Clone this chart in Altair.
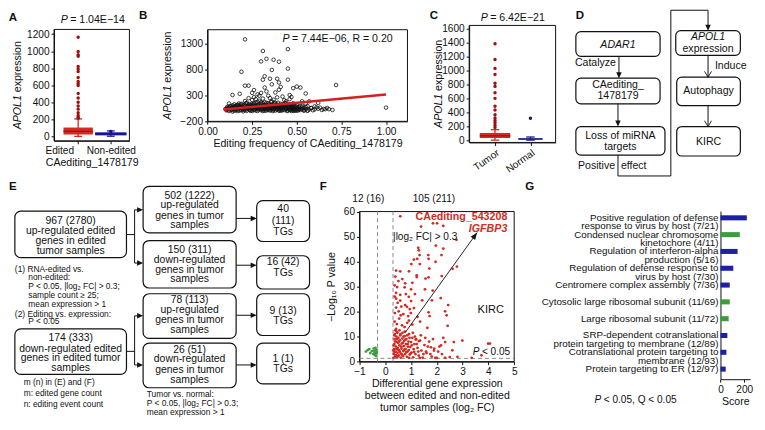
import math
import altair as alt
import pandas as pd

# ---------------------------------------------------------------- canvas
W, H = 752, 410
SX, SY = W / 765.0, H / 430.0
FS = 0.965
FONT = "Liberation Sans"
INK = "#111111"
RED = "#d42a22"
RED_DARK = "#9e1010"
NAVY = "#1d1d9b"
NAVY_DARK = "#15157a"
G_BLUE = "#1f1fa2"
G_GREEN = "#3d9d3d"
GREY = "#8a8a8a"


def X(r):
    return r * SX


def Y(r):
    return r * SY


# ---------------------------------------------------------------- data
# Panel A : APOL1 expression by editing status
A_groups = ["Edited", "Non-edited"]
A_q1 = [22, 12]
A_median = [60, 30]
A_q3 = [104, 48]
A_whisker_low = [0, 2]
A_whisker_high = [205, 64]
A_outliers_edited = [1163, 996, 958, 940, 821, 790, 762, 691, 646, 620, 598, 505,
                     450, 401, 357, 320, 279, 245, 225, 212]
A_outliers_nonedited = [57]
A_yticks = [0, 200, 400, 600, 800, 1000, 1200]

# Panel B : editing frequency vs APOL1 expression
B_points_sparse = [
    (0.21, 1388), (0.31, 1163), (0.45, 1199), (0.33, 1011), (0.37, 993), (0.30, 961),
    (0.40, 955), (0.19, 760), (0.36, 796), (0.45, 821), (0.32, 674), (0.31, 607),
    (0.35, 625), (0.39, 625), (0.45, 607), (0.40, 552), (0.36, 516), (0.21, 491),
    (0.23, 491), (0.32, 455), (0.41, 467), (0.72, 504), (0.50, 473), (0.52, 455),
    (0.48, 443), (0.26, 406), (0.40, 412), (0.18, 334), (0.14, 310), (0.25, 352),
    (0.28, 322), (0.30, 352), (0.46, 310), (0.47, 273), (0.55, 340), (0.62, 157),
    (0.57, 188), (0.53, 188), (0.56, 97), (0.60, 91), (0.63, 66), (0.66, 36),
    (0.68, 36), (1.00, 66), (0.49, 6), (0.51, 42), (0.475, 79), (0.56, 6), (0.44, 188),
    (0.46, 230), (0.26, 267), (0.29, 297), (0.34, 297), (0.23, 249), (0.21, 194),
    (0.175, 145), (0.12, 145), (0.33, 380), (0.38, 360), (0.27, 230), (0.35, 250),
    (0.42, 280), (0.31, 240), (0.37, 220), (0.43, 210), (0.25, 215), (0.39, 265),
    (0.44, 150), (0.50, 120), (0.53, 100), (0.58, 60), (0.48, 150), (0.55, 140),
]
B_points_dense = [
    (0.10, 40), (0.11, 55), (0.11, 25), (0.12, 70), (0.12, 35), (0.13, 50), (0.13, 90),
    (0.14, 20), (0.14, 60), (0.14, 110), (0.15, 40), (0.15, 75), (0.15, 130), (0.16, 15),
    (0.16, 55), (0.16, 95), (0.17, 30), (0.17, 70), (0.17, 120), (0.18, 45), (0.18, 85),
    (0.18, 10), (0.19, 60), (0.19, 105), (0.19, 140), (0.20, 25), (0.20, 70), (0.20, 50),
    (0.21, 90), (0.21, 15), (0.21, 120), (0.22, 40), (0.22, 65), (0.22, 160), (0.23, 30),
    (0.23, 80), (0.23, 110), (0.24, 5), (0.24, 55), (0.24, 95), (0.25, 35), (0.25, 130),
    (0.25, 70), (0.26, 20), (0.26, 100), (0.26, 150), (0.27, 45), (0.27, 80), (0.27, 10),
    (0.28, 60), (0.28, 120), (0.28, 175), (0.29, 30), (0.29, 90), (0.29, 200), (0.30, 50),
    (0.30, 140), (0.30, 15), (0.31, 75), (0.31, 110), (0.31, 35), (0.32, 5), (0.32, 60),
    (0.32, 170), (0.33, 95), (0.33, 40), (0.33, 125), (0.34, 20), (0.34, 70), (0.34, 150),
    (0.35, 55), (0.35, 105), (0.35, 10), (0.36, 85), (0.36, 35), (0.36, 190), (0.37, 60),
    (0.37, 130), (0.37, 15), (0.38, 45), (0.38, 100), (0.38, 160), (0.39, 25), (0.39, 75),
    (0.39, 120), (0.40, 50), (0.40, 5), (0.40, 90), (0.41, 65), (0.41, 140), (0.41, 30),
    (0.42, 80), (0.42, 15), (0.43, 55), (0.43, 110), (0.44, 35), (0.44, 70), (0.45, 10),
    (0.45, 95), (0.46, 50), (0.46, 130), (0.47, 25), (0.47, 75), (0.48, 45), (0.48, 5),
    (0.49, 60), (0.50, 30), (0.50, 85), (0.51, 15), (0.52, 50), (0.53, 70), (0.54, 25),
    (0.55, 40), (0.56, 10), (0.58, 55), (0.60, 30), (0.62, 45), (0.64, 20),
    (0.105, 15), (0.11, 80), (0.115, 45), (0.12, 0), (0.125, 95), (0.13, 20), (0.135, 65),
    (0.14, -10), (0.145, 85), (0.15, 5), (0.155, 100), (0.16, 35), (0.165, 115), (0.17, 0),
    (0.175, 90), (0.18, 65), (0.185, 130), (0.19, 20), (0.195, 80), (0.20, 110), (0.20, -5),
    (0.205, 40), (0.21, 60), (0.215, 150), (0.22, 5), (0.225, 95), (0.23, 55), (0.235, 135),
    (0.24, 20), (0.24, 120), (0.245, 75), (0.25, 0), (0.25, 100), (0.255, 50), (0.26, 70),
    (0.26, 125), (0.265, 30), (0.27, 160), (0.27, 100), (0.275, 60), (0.28, 0), (0.28, 90),
    (0.285, 35), (0.29, 130), (0.29, 60), (0.295, 100), (0.30, 80), (0.30, 170), (0.305, 30),
    (0.31, 150), (0.31, 0), (0.315, 90), (0.32, 40), (0.32, 120), (0.325, 75), (0.33, 10),
    (0.33, 160), (0.335, 55), (0.34, 100), (0.34, 45), (0.345, 130), (0.35, 80), (0.35, 30),
    (0.355, 175), (0.36, 60), (0.36, 120), (0.365, 0), (0.37, 100), (0.37, 40), (0.375, 150),
    (0.38, 70), (0.38, 10), (0.385, 125), (0.39, 50), (0.39, 100), (0.395, 160), (0.40, 30),
    (0.40, 120), (0.405, 75), (0.41, 100), (0.41, 5), (0.415, 50), (0.42, 130), (0.42, 40),
    (0.425, 90), (0.43, 20), (0.43, 80), (0.435, 150), (0.44, 50), (0.44, 110), (0.445, 0),
    (0.45, 70), (0.45, 40), (0.455, 120), (0.46, 20), (0.46, 90), (0.465, 60), (0.47, 110),
    (0.47, 0), (0.475, 40), (0.48, 80), (0.48, 120), (0.485, 20), (0.49, 100), (0.49, 35),
    (0.50, 60), (0.50, 5), (0.51, 80), (0.51, 40), (0.52, 20), (0.52, 95), (0.53, 35),
    (0.54, 60), (0.54, 5), (0.55, 80), (0.57, 30), (0.59, 15), (0.61, 70), (0.65, 40),
    (0.67, 60), (0.70, 20),
]
B_fit_x = [0.09, 1.0]
B_fit_y = [29, 321]
B_xticks = [0.0, 0.25, 0.5, 0.75, 1.0]
B_yticks = [-200, 300, 800, 1300]

# Panel C : tumor vs normal
C_groups = ["Tumor", "Normal"]
C_q1 = [31, 8]
C_median = [62, 16]
C_q3 = [103, 26]
C_whisker_low = [0, 0]
C_whisker_high = [150, 45]
C_outliers_tumor = [1383, 1156, 1029, 943, 816, 771, 680, 599, 485, 431, 363, 317,
                    281, 249, 213, 181]
C_outliers_normal = [313]
C_yticks = [0, 200, 400, 600, 800, 1000, 1200, 1400, 1600]

# Panel F : differential expression of edited genes
F_red = [
    (0.58, 58.1), (1.85, 55.3), (2.01, 55.3), (2.25, 54.3), (1.39, 54.0), (2.76, 48.7),
    (1.96, 46.4), (1.28, 45.5), (1.30, 44.5), (2.25, 45.2), (1.67, 42.6), (1.33, 42.6),
    (2.18, 42.6), (1.11, 40.8), (1.24, 41.1), (1.68, 41.1), (1.95, 39.9), (1.01, 39.0),
    (1.34, 39.0), (2.78, 38.0), (2.61, 37.1), (1.71, 37.2), (0.42, 36.4), (0.58, 36.1),
    (0.92, 36.1), (1.22, 34.5), (1.22, 33.8), (1.68, 33.7), (1.56, 33.2), (2.19, 34.2),
    (0.51, 32.2), (0.77, 31.3), (0.46, 29.8), (0.75, 29.7), (1.00, 28.9), (1.54, 28.9),
    (1.84, 28.4), (0.42, 27.5), (0.58, 26.7), (0.37, 26.0), (0.91, 25.9), (0.42, 25.2),
    (0.58, 24.4), (1.43, 24.5), (1.81, 24.5), (2.15, 25.4), (0.48, 23.5), (1.00, 24.2),
    (2.44, 22.6), (0.77, 22.6), (0.42, 21.6), (0.84, 21.9), (1.11, 21.4), (2.32, 20.1),
    (0.52, 20.1), (0.37, 19.4), (0.99, 19.4), (1.68, 19.7), (0.89, 18.2), (1.25, 17.9),
    (1.72, 18.2), (2.38, 18.5), (0.54, 17.2), (0.92, 16.4), (2.42, 14.3), (1.63, 13.5),
    (0.42, 13.1), (0.36, 16.0), (0.45, 15.0), (0.65, 14.5), (0.70, 19.0), (0.62, 22.0),
    (0.80, 27.0), (0.36, 30.5), (0.66, 33.0), (1.05, 31.5), (0.39, 34.0), (1.15, 27.0),
    (0.55, 12.5), (0.75, 13.8), (1.05, 14.8), (1.35, 16.0), (0.85, 15.5), (0.60, 18.5),
    (0.95, 21.0),
    (0.32, 1.5), (0.33, 3.0), (0.34, 5.0), (0.35, 7.0), (0.36, 9.0), (0.37, 11.0),
    (0.38, 2.0), (0.40, 4.0), (0.41, 6.0), (0.42, 8.0), (0.43, 10.0), (0.44, 12.0),
    (0.45, 1.8), (0.47, 3.5), (0.48, 5.5), (0.50, 7.5), (0.51, 9.5), (0.52, 2.5),
    (0.54, 4.5), (0.55, 6.5), (0.57, 8.5), (0.58, 10.5), (0.60, 1.6), (0.61, 3.2),
    (0.63, 5.2), (0.64, 7.2), (0.66, 9.2), (0.67, 11.5), (0.69, 2.2), (0.70, 4.2),
    (0.72, 6.2), (0.73, 8.2), (0.75, 10.2), (0.77, 3.0), (0.79, 5.0), (0.80, 7.0),
    (0.82, 9.0), (0.84, 1.9), (0.86, 4.0), (0.88, 6.0), (0.90, 8.0), (0.92, 11.0),
    (0.95, 2.8), (0.97, 5.8), (1.00, 7.8), (1.02, 3.6), (1.05, 9.5), (1.08, 1.7),
    (1.10, 5.0), (1.13, 7.0), (1.17, 3.0), (1.20, 9.0), (1.25, 5.5), (1.30, 2.4),
    (1.35, 8.4), (1.40, 4.4), (1.45, 1.6), (1.52, 6.6), (1.60, 3.4), (1.70, 8.0),
    (1.80, 2.0), (1.90, 5.2), (2.00, 1.5), (2.10, 6.0), (2.20, 3.0), (2.50, 1.8),
    (2.99, 8.4), (3.99, 7.2), (4.06, 7.2), (2.32, 7.8), (2.16, 6.5), (1.77, 5.7),
    (1.58, 4.0), (1.89, 4.4), (2.66, 7.8), (1.30, 8.2), (1.18, 8.8), (3.35, 1.5),
    (3.73, 2.5), (2.80, 1.9), (2.32, 1.5), (1.94, 1.5), (1.34, 1.5), (0.92, 1.5),
    (0.31, 4.5), (0.33, 6.5), (0.35, 10.5), (0.36, 3.8), (0.38, 8.0), (0.39, 12.5),
    (0.41, 2.6), (0.43, 5.0), (0.46, 9.0), (0.47, 11.5), (0.49, 2.1), (0.50, 4.8),
    (0.53, 8.0), (0.56, 3.9), (0.59, 11.0), (0.62, 6.0), (0.65, 2.8), (0.68, 7.5),
    (0.71, 10.0), (0.74, 4.8), (0.76, 12.0), (0.78, 8.8), (0.81, 3.8), (0.85, 10.5),
    (0.87, 7.0), (0.91, 4.6), (0.94, 9.5), (0.98, 3.2), (1.03, 6.5), (1.07, 11.5),
    (1.12, 3.9), (1.15, 10.0), (1.22, 7.0), (1.28, 4.0), (1.38, 10.5), (1.48, 3.0),
    (1.55, 9.5), (1.65, 6.0), (1.75, 3.0), (1.85, 9.0), (2.05, 4.0), (2.25, 9.5),
    (2.60, 4.5),
]
F_green = [
    (-0.75, 4.0), (-0.68, 4.6), (-0.62, 5.0), (-0.58, 3.4), (-0.52, 4.2), (-0.47, 3.0),
    (-0.45, 5.2), (-0.43, 4.4), (-0.41, 3.6), (-0.40, 2.6), (-0.38, 5.5), (-0.37, 4.0),
    (-0.36, 3.2), (-0.35, 2.2), (-0.34, 4.8), (-0.33, 3.8),
]
F_fc_cut = [-0.3, 0.3]
F_p_cut = 1.3
F_xticks = [-1, 0, 1, 2, 3, 4, 5]
F_yticks = [0, 10, 20, 30, 40, 50, 60]
F_arrow_from = (0.77, 11.6)
F_arrow_to = (3.56, 51.6)

# Panel G : enrichment scores
G_terms = [
    "Positive regulation of defense\nresponse to virus by host (7/21)",
    "Condensed nuclear chromosome\nkinetochore (4/11)",
    "Regulation of interferon-alpha\nproduction (5/16)",
    "Regulation of defense response to\nvirus by host (7/30)",
    "Centromere complex assembly (7/36)",
    "Cytosolic large ribosomal subunit (11/69)",
    "Large ribosomal subunit (11/72)",
    "SRP-dependent cotranslational\nprotein targeting to membrane (12/89)",
    "Cotranslational protein targeting to\nmembrane (12/93)",
    "Protein targeting to ER (12/97)",
]
G_scores = [222, 163, 144, 108, 78, 78, 69, 58, 50, 44]
G_kind = ["bp", "cc", "bp", "bp", "bp", "cc", "cc", "bp", "bp", "bp"]
G_xticks = [0, 200]

# ---------------------------------------------------------------- layout helpers
CX = alt.Scale(domain=[0, 765], range=[0, W], nice=False, zero=False)
CY = alt.Scale(domain=[0, 430], range=[0, H], nice=False, zero=False)
canvas = []


def cx(f):
    return alt.X(f + ":Q", scale=CX, axis=None)


def cy(f):
    return alt.Y(f + ":Q", scale=CY, axis=None)


def add_text(rows, size, align="center", style="normal", weight="normal", color=INK,
             angle=0):
    df = pd.DataFrame(rows, columns=["t", "x", "y"])
    canvas.append(alt.Chart(df).mark_text(
        font=FONT, fontSize=size * FS, align=align, baseline="middle", angle=angle,
        fontStyle=style, fontWeight=weight, color=color).encode(
        x=cx("x"), y=cy("y"), text="t:N"))


def add_boxes(rows, radius=5):
    df = pd.DataFrame(rows, columns=["x1", "y1", "x2", "y2"])
    canvas.append(alt.Chart(df).mark_rect(
        cornerRadius=radius, fill="white", stroke=INK, strokeWidth=1.2).encode(
        x=cx("x1"), x2="x2:Q", y=cy("y1"), y2="y2:Q"))


def add_segs(rows, width=1.0):
    df = pd.DataFrame(rows, columns=["x1", "y1", "x2", "y2"])
    canvas.append(alt.Chart(df).mark_rule(color=INK, strokeWidth=width).encode(
        x=cx("x1"), x2="x2:Q", y=cy("y1"), y2="y2:Q"))


def add_heads(rows, shape, filled=True, size=25):
    df = pd.DataFrame(rows, columns=["x", "y"])
    canvas.append(alt.Chart(df).mark_point(
        shape=shape, filled=filled, size=size, color=INK, opacity=1,
        strokeWidth=0.9).encode(x=cx("x"), y=cy("y")))


def p_text(rest, xs, y, size):
    add_text([("P", xs, y)], size, align="right", style="italic")
    add_text([(rest, xs + 2.5, y)], size, align="left")


def apol1_title(xc, yc, size=11):
    # vertical "APOL1 expression" with the gene symbol in italics
    fs = size * FS
    w_gene = 3.224 * fs
    w_space = 0.278 * fs
    total = (3.224 + 0.278 + 4.835) * fs
    start = Y(yc) + total / 2.0
    add_text([("APOL1", xc, start / SY)], size, align="left", style="italic", angle=270)
    add_text([("expression", xc, (start - w_gene - w_space) / SY)], size, align="left",
             angle=270)


HEAD_DOWN = "M-1.1,-2.4L0,0L1.1,-2.4Z"
HEAD_RIGHT = "M-2.4,-1.1L0,0L-2.4,1.1Z"
HEAD_OPEN = "M-1.5,-2.5L0,0L1.5,-2.5"
HEAD_UP = "M-1,2.6L0,0L1,2.6Z"

AX = dict(grid=False, labelFlush=False, labelOverlap=False, minExtent=0,
          labelFont=FONT, titleFont=FONT, labelFontSize=10.5 * FS,
          titleFontSize=11 * FS, titleFontWeight="normal", tickSize=3,
          labelPadding=2, domainColor=INK, tickColor=INK, labelColor=INK,
          titleColor=INK)


class Panel:
    def __init__(self, xdom, ydom, frame, xaxis, yaxis):
        fx1, fy1, fx2, fy2 = frame
        self.xdom, self.ydom = xdom, ydom
        self.xsc = alt.Scale(domain=xdom, range=[X(fx1), X(fx2)], nice=False, zero=False)
        self.ysc = alt.Scale(domain=ydom, range=[Y(fy2), Y(fy1)], nice=False, zero=False)
        self.xax = alt.Axis(orient="bottom", offset=Y(fy2) - H, **xaxis, **AX)
        self.yax = alt.Axis(orient="left", offset=-X(fx1), **yaxis, **AX)

    def x(self, f):
        return alt.X(f, type="quantitative", scale=self.xsc, axis=self.xax)

    def y(self, f):
        return alt.Y(f, type="quantitative", scale=self.ysc, axis=self.yax)

    def frame(self):
        df = pd.DataFrame({"x1": [self.xdom[0]], "x2": [self.xdom[1]],
                           "y1": [self.ydom[0]], "y2": [self.ydom[1]]})
        return alt.Chart(df).mark_rect(fillOpacity=0, stroke=INK, strokeWidth=1).encode(
            x=self.x("x1"), x2="x2:Q", y=self.y("y1"), y2="y2:Q")


def box_layers(P, q1, med, q3, lo, hi, colors, dark, halfw, capw, outliers):
    df = pd.DataFrame(dict(pos=[1, 2], q1=q1, med=med, q3=q3, lo=lo, hi=hi,
                           c=colors, d=dark, hw=halfw))
    df["xl"] = df["pos"] - df["hw"]
    df["xr"] = df["pos"] + df["hw"]
    df["cl"] = df["pos"] - capw
    df["cr"] = df["pos"] + capw
    col = alt.Color("c:N", scale=None)
    base = alt.Chart(df)
    layers = [
        base.mark_rule(strokeWidth=1.3).encode(x=P.x("pos"), y=P.y("lo"), y2="hi:Q", color=col),
        base.mark_rule(strokeWidth=1.3).encode(x=P.x("cl"), x2="cr:Q", y=P.y("hi"), color=col),
        base.mark_rule(strokeWidth=1.3).encode(x=P.x("cl"), x2="cr:Q", y=P.y("lo"), color=col),
        base.mark_rect().encode(x=P.x("xl"), x2="xr:Q", y=P.y("q1"), y2="q3:Q", color=col),
        base.mark_rule(strokeWidth=1.2).encode(x=P.x("xl"), x2="xr:Q", y=P.y("med"),
                                               color=alt.Color("d:N", scale=None)),
    ]
    rows = []
    for i, vals in enumerate(outliers):
        for v in vals:
            rows.append((i + 1, v, dark[i]))
    odf = pd.DataFrame(rows, columns=["pos", "v", "c"])
    layers.append(alt.Chart(odf).mark_circle(size=12, opacity=1).encode(
        x=P.x("pos"), y=P.y("v"), color=col))
    return layers


def cat_expr(groups):
    return "datum.value == 1 ? '%s' : '%s'" % (groups[0], groups[1])


# ---------------------------------------------------------------- panel A
PA = Panel([0.26, 2.57], [-52, 1256], (47, 21.7, 124, 139),
           dict(values=[1, 2], labelExpr=cat_expr(A_groups), title="CAediting_1478179",
                titlePadding=2,
                labelOffset={"condition": {"test": "datum.value == 1", "value": -19},
                             "value": 0}),
           dict(values=A_yticks, format="d", title=None))
panel_a = alt.layer(PA.frame(), *box_layers(
    PA, A_q1, A_median, A_q3, A_whisker_low, A_whisker_high, [RED, NAVY],
    [RED_DARK, NAVY_DARK], [0.45, 0.48], 0.12, [A_outliers_edited, A_outliers_nonedited]))

# ---------------------------------------------------------------- panel B
PB = Panel([0.0, 1.12], [-200, 1575], (203.8, 22, 408, 118.5),
           dict(values=B_xticks, format=".2f", title="Editing frequency of CAediting_1478179",
                titlePadding=2),
           dict(values=B_yticks, format="d", title=None))
bdf = pd.DataFrame(B_points_sparse + B_points_dense, columns=["f", "e"])
fit = pd.DataFrame({"f": B_fit_x, "e": B_fit_y})
panel_b = alt.layer(
    PB.frame(),
    alt.Chart(bdf).mark_point(shape="circle", filled=False, size=13, color=INK,
                              strokeWidth=0.8, opacity=1).encode(x=PB.x("f"), y=PB.y("e")),
    alt.Chart(fit).mark_line(color="#d61f1f", strokeWidth=2.6).encode(x=PB.x("f"), y=PB.y("e")),
)

# ---------------------------------------------------------------- panel C
PC = Panel([0.27, 2.71], [-33, 1645], (471, 17.5, 559.3, 140.7),
           dict(values=[1, 2], labelExpr=cat_expr(C_groups), labelAngle=-35, title=None),
           dict(values=C_yticks, format="d", title=None))
panel_c = alt.layer(PC.frame(), *box_layers(
    PC, C_q1, C_median, C_q3, C_whisker_low, C_whisker_high, [RED, NAVY],
    [RED_DARK, NAVY_DARK], [0.43, 0.34], 0.12, [C_outliers_tumor, C_outliers_normal]))

# ---------------------------------------------------------------- panel F
PF = Panel([-1, 5], [0, 60], (359, 213.5, 517, 371.5),
           dict(values=F_xticks, title=["Differential gene expression",
                                        "between edited and non-edited",
                                        "tumor samples (log\u2082 FC)"],
                titlePadding=2, titleLineHeight=12.6 * FS),
           dict(values=F_yticks, title="\u2212Log\u2081\u2080 P value", titlePadding=7))
vdf = pd.DataFrame({"x": F_fc_cut, "y1": [0, 0], "y2": [60, 60]})
hdf = pd.DataFrame({"x1": [-1], "x2": [5], "y": [F_p_cut]})
rdf = pd.DataFrame(F_red, columns=["fc", "p"])
gdf = pd.DataFrame(F_green, columns=["fc", "p"])
adf = pd.DataFrame({"x1": [F_arrow_from[0]], "y1": [F_arrow_from[1]],
                    "x2": [F_arrow_to[0]], "y2": [F_arrow_to[1]]})
hd = pd.DataFrame({"x": [F_arrow_to[0]], "y": [F_arrow_to[1]]})
_dxp = (F_arrow_to[0] - F_arrow_from[0]) * (517 - 359) / 6 * SX
_dyp = (F_arrow_to[1] - F_arrow_from[1]) * (371.5 - 213.5) / 60 * SY
F_angle = math.degrees(math.atan2(_dxp, _dyp))
ann = pd.DataFrame({"t": ["|log\u2082 FC| > 0.3", "KIRC"], "x": [0.30, 4.09], "y": [49.7, 20.7]})
panel_f = alt.layer(
    PF.frame(),
    alt.Chart(vdf).mark_rule(color=GREY, strokeDash=[4, 3], strokeWidth=1).encode(
        x=PF.x("x"), y=PF.y("y1"), y2="y2:Q"),
    alt.Chart(hdf).mark_rule(color=GREY, strokeDash=[4, 3], strokeWidth=1).encode(
        x=PF.x("x1"), x2="x2:Q", y=PF.y("y")),
    alt.Chart(rdf).mark_circle(size=8, opacity=1, color=RED).encode(x=PF.x("fc"), y=PF.y("p")),
    alt.Chart(gdf).mark_circle(size=8, opacity=1, color=G_GREEN).encode(x=PF.x("fc"), y=PF.y("p")),
    alt.Chart(adf).mark_rule(color=INK, strokeWidth=0.9).encode(
        x=PF.x("x1"), x2="x2:Q", y=PF.y("y1"), y2="y2:Q"),
    alt.Chart(hd).mark_point(shape=HEAD_UP, filled=True, size=30, color=INK, opacity=1,
                             angle=F_angle).encode(x=PF.x("x"), y=PF.y("y")),
    alt.Chart(ann.iloc[:1]).mark_text(font=FONT, fontSize=10.5 * FS, align="left",
                                      color=INK).encode(x=PF.x("x"), y=PF.y("y"), text="t:N"),
    alt.Chart(ann.iloc[1:]).mark_text(font=FONT, fontSize=11.5 * FS, align="center",
                                      color=INK).encode(x=PF.x("x"), y=PF.y("y"), text="t:N"),
)

# ---------------------------------------------------------------- panel G
PG = Panel([0, 250], [9.6, -0.4], (727.7, 213, 758, 390),
           dict(values=G_xticks, title="Score", titlePadding=2),
           dict(labels=False, ticks=False, title=None))
gb = pd.DataFrame({"row": list(range(len(G_scores))), "s": G_scores,
                   "c": [G_BLUE if k == "bp" else G_GREEN for k in G_kind]})
gb["z"] = 0
gb["r1"] = gb["row"] - 0.15
gb["r2"] = gb["row"] + 0.15
lab_rows = []
for i, term in enumerate(G_terms):
    for j, line in enumerate(term.split("\n")):
        lab_rows.append((line, 0, i + 0.5 * j))
gl = pd.DataFrame(lab_rows, columns=["t", "z", "r"])
panel_g = alt.layer(
    alt.Chart(gb).mark_rect().encode(x=PG.x("z"), x2="s:Q", y=PG.y("r1"), y2="r2:Q",
                                     color=alt.Color("c:N", scale=None)),
    alt.Chart(gl).mark_text(font=FONT, fontSize=10.2 * FS, align="right", dx=-2,
                            color=INK).encode(x=PG.x("z"), y=PG.y("r"), text="t:N"),
)

# ---------------------------------------------------------------- canvas: letters & titles
add_text([("A", 5, 10), ("B", 138, 8), ("C", 435, 8), ("D", 584, 8),
          ("E", 5, 188), ("F", 322, 188), ("G", 533, 188)], 12, weight="bold")
p_text("= 1.04E\u221214", 61, 12, 11)
p_text("= 6.42E\u221221", 490, 10, 11)
p_text("= 7.44E\u221206, R = 0.20", 287.5, 32, 11)
p_text("< 0.05", 481.5, 361, 10.5)
p_text("< 0.05, Q < 0.05", 606, 412, 10.5)
apol1_title(10, 80.4)
apol1_title(163, 70.3)
apol1_title(440, 79)
add_text([("CAediting_543208", 510, 219)], 11.1, align="right", weight="bold", color=RED)
add_text([("IGFBP3", 510, 232)], 11.1, align="right", weight="bold", style="italic", color=RED)
add_text([("12 (16)", 368, 200), ("105 (211)", 435, 200)], 10.5)

# ---------------------------------------------------------------- canvas: panel D
add_segs([(624, 50, 624, 70), (623, 100, 623, 121),
          (623, 154, 623, 176), (623, 176, 677, 176), (677, 176, 677, 1.5),
          (677, 1.5, 715, 1.5), (715, 1.5, 715, 20),
          (715, 49, 715, 72), (715, 102, 715, 124)])
add_boxes([(580, 24, 666, 50), (580, 73, 666, 100), (580, 124, 671, 154),
           (682, 23, 748, 49), (683, 72, 748, 102), (683, 124, 748, 155)])
add_heads([(624, 73), (623, 124), (715, 23)], HEAD_DOWN, size=25)
add_heads([(715, 72), (715, 124)], HEAD_OPEN, filled=False, size=22)
add_text([("ADAR1", 623, 37.7), ("APOL1", 715, 29.3)], 11, style="italic")
add_text([("CAediting_", 623, 80.5), ("1478179", 623, 92), ("Loss of miRNA", 625.5, 133.5),
          ("targets", 625.5, 145.5), ("expression", 715, 42.3), ("Autophagy", 715.5, 86.5),
          ("KIRC", 715.5, 140)], 11)
add_text([("Catalyze", 621, 57), ("Positive", 620, 166)], 11, align="right")
add_text([("effect", 626, 166), ("Induce", 722, 60)], 11, align="left")

# ---------------------------------------------------------------- canvas: panel E
add_segs([(121, 237.7, 129.3, 237.7), (129.3, 211.7, 129.3, 267.7),
          (129.3, 211.7, 134, 211.7), (129.3, 267.7, 134, 267.7),
          (121, 360.7, 129.3, 360.7), (129.3, 323.3, 129.3, 375),
          (129.3, 323.3, 134, 323.3), (129.3, 375, 134, 375),
          (233, 220.7, 250, 220.7), (233, 270, 250, 270),
          (233, 322.7, 250, 322.7), (233, 375, 250, 375)])
add_boxes([(7, 213, 121, 262), (7, 337, 121, 385),
           (138, 187, 233, 236), (138, 244, 233, 294), (138, 300, 233, 347),
           (138, 352, 233, 399),
           (254, 202, 308, 245), (254, 260, 308, 295), (254, 300, 308, 344),
           (254, 352, 308, 395)], radius=6)
add_heads([(138, 211.7), (138, 267.7), (138, 323.3), (138, 375),
           (254, 220.7), (254, 270), (254, 322.7), (254, 375)], HEAD_RIGHT, size=25)
add_text([
    ("967 (2780)", 64, 223.3), ("up-regulated edited", 64, 234), ("genes in edited", 64, 245),
    ("tumor samples", 64, 255.5),
    ("174 (333)", 64, 346.7), ("down-regulated edited", 64, 357.7),
    ("genes in edited tumor", 64, 367.7), ("samples", 64, 377.7),
    ("502 (1222)", 185.5, 196.7), ("up-regulated", 185.5, 206.7),
    ("genes in tumor", 185.5, 217.7), ("samples", 185.5, 227.7),
    ("150 (311)", 185.5, 254), ("down-regulated", 185.5, 264.3),
    ("genes in tumor", 185.5, 275), ("samples", 185.5, 285),
    ("78 (113)", 185.5, 306.7), ("up-regulated", 185.5, 317.3),
    ("genes in tumor", 185.5, 327.7), ("samples", 185.5, 338.3),
    ("26 (51)", 185.5, 359), ("down-regulated", 185.5, 369),
    ("genes in tumor", 185.5, 380), ("samples", 185.5, 390.7),
    ("40", 281, 211), ("(111)", 281, 223.3), ("TGs", 281, 235),
    ("16 (42)", 281, 266.7), ("TGs", 281, 277.7),
    ("9 (13)", 281, 317.7), ("TGs", 281, 329),
    ("1 (1)", 281, 368.3), ("TGs", 281, 379.3),
], 10.8)
add_text([
    ("(1) RNA-edited vs.", 7, 274), ("non-edited:", 20.7, 282.3),
    ("P < 0.05, |log\u2082 FC| > 0.3;", 20.7, 291.7), ("sample count \u2265 25;", 20.7, 301),
    ("mean expression > 1", 20.7, 311), ("(2) Editing vs. expression:", 7, 321),
    ("P < 0.05", 20.7, 329),
    ("m (n) in (E) and (F)", 16, 393.3), ("m: edited gene count", 16, 405),
    ("n: editing event count", 16, 415.7),
    ("Tumor vs. normal:", 141.7, 405.7), ("P < 0.05, |log\u2082 FC| > 0.3;", 141.7, 415),
    ("mean expression > 1", 141.7, 424.3),
], 8.7, align="left")

panel_canvas = alt.layer(*canvas)

chart = alt.layer(panel_a, panel_b, panel_c, panel_f, panel_g, panel_canvas).resolve_scale(
    x="independent", y="independent"
).properties(
    width=W, height=H, padding=0, autosize=alt.AutoSizeParams(type="none")
).configure_view(stroke=None)

chart.save("out.html", embed_options={"renderer": "svg", "actions": False})
